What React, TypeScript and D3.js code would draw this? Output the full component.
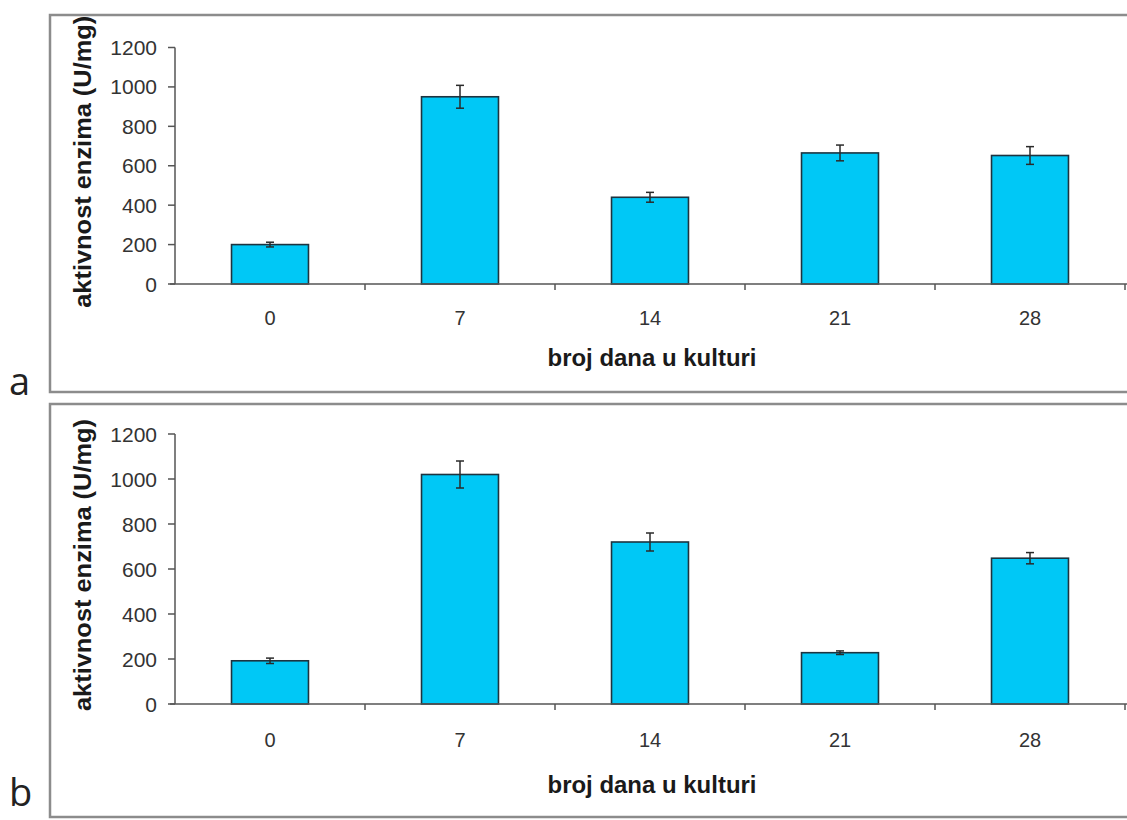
import React from "react";
import * as d3 from "d3";

const categories = ["0", "7", "14", "21", "28"];
const valuesA = [200, 950, 440, 665, 652];
const errorsA = [12, 58, 25, 40, 45];
const valuesB = [192, 1020, 720, 228, 648];
const errorsB = [12, 60, 40, 8, 25];
const yTicks = [0, 200, 400, 600, 800, 1000, 1200];
const yLabel = "aktivnost enzima (U/mg)";
const xLabel = "broj dana u kulturi";

type PanelProps = {
  letter: string;
  values: number[];
  errors: number[];
  boxTop: number;
  boxBottom: number;
  yTop: number;
  yZero: number;
  tickLabelBaseline: number;
  titleBaseline: number;
  letterBaseline: number;
};

const FONT = "'Liberation Sans', Arial, sans-serif";

function Panel(p: PanelProps) {
  const x = d3
    .scaleBand<string>()
    .domain(categories)
    .range([175, 1125])
    .paddingInner(0.595)
    .paddingOuter(0.2975);
  const y = d3.scaleLinear().domain([0, 1200]).range([p.yZero, p.yTop]);
  const step = x.step();
  const boundaries = d3.range(categories.length + 1).map((i) => 175 + i * step);
  const yMid = (p.yTop + p.yZero) / 2;
  return (
    <g>
      <rect
        x={50}
        y={p.boxTop}
        width={1100}
        height={p.boxBottom - p.boxTop}
        fill="white"
        stroke="#8c8c8c"
        strokeWidth={2.5}
      />
      <text
        x={9}
        y={p.letterBaseline}
        fontFamily="'Open Sans', sans-serif"
        fontSize={38}
        fill="#222"
      >
        {p.letter}
      </text>
      {/* y axis label */}
      <text
        transform={`translate(91,${yMid - 4}) rotate(-90)`}
        textAnchor="middle"
        fontFamily={FONT}
        fontWeight="bold"
        fontSize={24}
        textLength={292}
        lengthAdjust="spacingAndGlyphs"
        fill="#1a1a1a"
      >
        {yLabel}
      </text>
      {/* y axis */}
      <line x1={175} x2={175} y1={y(1200)} y2={y(0)} stroke="#555" strokeWidth={1.5} />
      {yTicks.map((t) => (
        <g key={t}>
          <line x1={168} x2={175} y1={y(t)} y2={y(t)} stroke="#555" strokeWidth={1.5} />
          <text
            x={157}
            y={y(t)}
            dy="0.36em"
            textAnchor="end"
            fontFamily={FONT}
            fontSize={21}
            fill="#333"
          >
            {t}
          </text>
        </g>
      ))}
      {/* bars */}
      {categories.map((c, i) => {
        const bx = x(c)!;
        const bw = x.bandwidth();
        const cx = bx + bw / 2;
        return (
          <g key={c}>
            <rect
              x={bx}
              y={y(p.values[i])}
              width={bw}
              height={y(0) - y(p.values[i])}
              fill="#00C8F6"
              stroke="#1d3440"
              strokeWidth={1.6}
            />
            <line
              x1={cx}
              x2={cx}
              y1={y(p.values[i] + p.errors[i])}
              y2={y(p.values[i] - p.errors[i])}
              stroke="#2a2a2a"
              strokeWidth={1.5}
            />
            <line
              x1={cx - 4}
              x2={cx + 4}
              y1={y(p.values[i] + p.errors[i])}
              y2={y(p.values[i] + p.errors[i])}
              stroke="#2a2a2a"
              strokeWidth={1.5}
            />
            <line
              x1={cx - 4}
              x2={cx + 4}
              y1={y(p.values[i] - p.errors[i])}
              y2={y(p.values[i] - p.errors[i])}
              stroke="#2a2a2a"
              strokeWidth={1.5}
            />
            <text
              x={cx}
              y={p.tickLabelBaseline}
              textAnchor="middle"
              fontFamily={FONT}
              fontSize={20}
              fill="#333"
            >
              {c}
            </text>
          </g>
        );
      })}
      {/* x axis */}
      <line x1={170} x2={1127} y1={y(0)} y2={y(0)} stroke="#555" strokeWidth={1.5} />
      {boundaries.slice(1).map((b, i) => (
        <line key={i} x1={b} x2={b} y1={y(0)} y2={y(0) + 6} stroke="#555" strokeWidth={1.5} />
      ))}
      <text
        x={652}
        y={p.titleBaseline}
        textAnchor="middle"
        fontFamily={FONT}
        fontWeight="bold"
        fontSize={24}
        textLength={209}
        lengthAdjust="spacingAndGlyphs"
        fill="#1a1a1a"
      >
        {xLabel}
      </text>
    </g>
  );
}

export default function App() {
  return (
    <svg
      width={1127}
      height={820}
      style={{ position: "absolute", left: 0, top: 0, background: "white" }}
    >
      <rect x={0} y={0} width={1127} height={820} fill="white" />
      <Panel
        letter="a"
        values={valuesA}
        errors={errorsA}
        boxTop={15}
        boxBottom={392}
        yTop={47.5}
        yZero={284}
        tickLabelBaseline={325}
        titleBaseline={366}
        letterBaseline={395}
      />
      <Panel
        letter="b"
        values={valuesB}
        errors={errorsB}
        boxTop={404}
        boxBottom={817}
        yTop={434}
        yZero={704}
        tickLabelBaseline={747}
        titleBaseline={793}
        letterBaseline={806}
      />
    </svg>
  );
}
